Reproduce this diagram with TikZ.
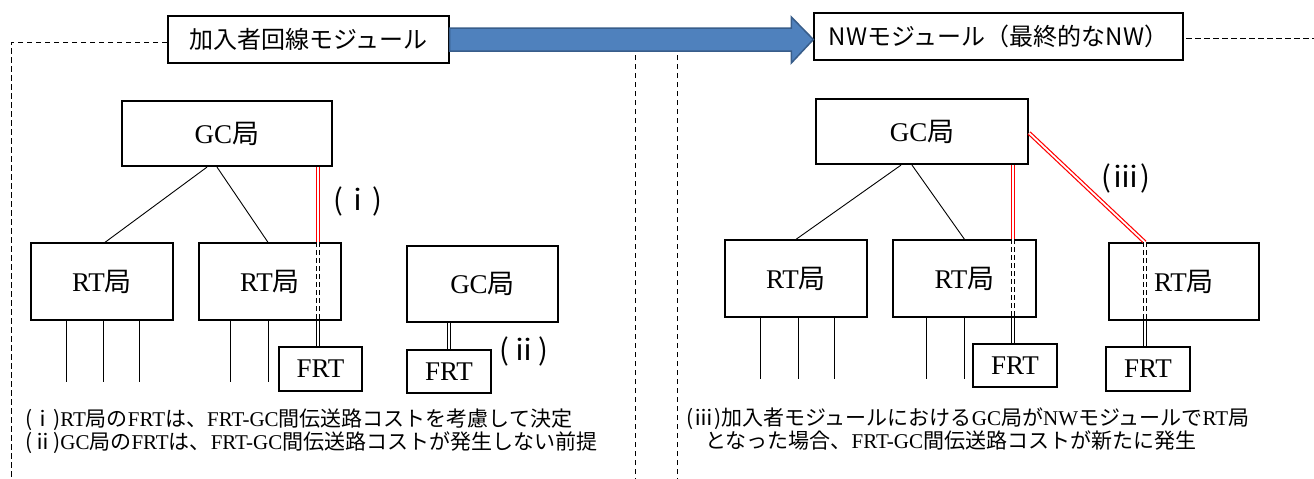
\documentclass[tikz,border=0pt]{standalone}
\usepackage{fontspec}
\setmainfont{Liberation Serif}
\newfontfamily\jp{Noto Sans CJK JP}
\usetikzlibrary{calc}
\definecolor{arrowblue}{RGB}{79,129,189}
\definecolor{arrowedge}{RGB}{56,93,138}

\tikzset{
    box/.style={draw, line width=1.3pt, fill=white, inner sep=0pt, font=\fontsize{27}{30}\selectfont},
    gcbox/.style={box, line width=2.2pt},
    title/.style={draw, line width=1.3pt, fill=white, inner sep=0pt, minimum height=47pt, font=\jp\fontsize{24}{28}\selectfont},
    frame/.style={line width=0.9pt, dash pattern=on 5.5pt off 3.5pt},
    tree/.style={line width=0.9pt},
    cost/.style={draw=red, line width=1.2pt, double=white, double distance=1.8pt},
    inside/.style={draw=black, line width=1.7pt, double=white, double distance=1.3pt, dash pattern=on 5pt off 3pt},
    link/.style={draw=black, line width=1.1pt, double=white, double distance=2pt},
    tag/.style={inner sep=0pt, font=\jp\fontsize{29}{32}\selectfont},
    note/.style={anchor=west, inner sep=0pt, align=left, font=\fontsize{21}{20}\selectfont}
}

\begin{document}
\begin{tikzpicture}[x=1pt,y=-1pt]
\useasboundingbox (0,0) rectangle (1314,479);

% dashed frames of the two modules
\draw[frame] (635,600) -- (635,42) -- (11,42) -- (11,600);
\draw[frame] (677,600) -- (677,38) -- (1400,38);

% module titles and the big arrow
\node[title, minimum width=281pt] (mod1) at (308.5,39.5) {加入者回線モジュール};
\node[title, minimum width=369pt] (mod2) at (998.5,36.5) {NWモジュール（最終的なNW）};
\draw[arrowedge, fill=arrowblue, line width=1.5pt, line join=miter]
    let \p1=(mod1.east), \p2=(mod2.west) in
    (\x1,\y1+11.5pt) -- (\x2-22pt,\y1+11.5pt) -- (\x2-22pt,\y1+22.5pt) -- (\x2,\y1)
    -- (\x2-22pt,\y1-23.5pt) -- (\x2-22pt,\y1-11.5pt) -- (\x1,\y1-11.5pt) -- cycle;

% left: subscriber line module
\node[gcbox, minimum width=210pt, minimum height=65pt] (gc1) at (227,133.5) {GC{\jp 局}};
\node[box, minimum width=142pt, minimum height=77pt] (rt1) at (102,281.5) {RT{\jp 局}};
\node[box, minimum width=142pt, minimum height=77pt] (rt2) at (270,281.5) {RT{\jp 局}};
\node[box, minimum width=83pt, minimum height=44pt] (frt1) at (320.5,369) {FRT};
\node[box, minimum width=151pt, minimum height=76pt] (gc2) at (482.5,284) {GC{\jp 局}};
\node[box, minimum width=84pt, minimum height=43pt] (frt2) at (449,371.5) {FRT};

\draw[tree] ([xshift=-20pt]gc1.south) -- ([xshift=3pt]rt1.north);
\draw[tree] ([xshift=-10pt]gc1.south) -- ([xshift=-2pt]rt2.north);
\foreach \dx in {-36,1,37}
    \draw[tree] ([xshift=\dx pt]rt1.south) -- ++(0,61);
\foreach \dx in {-40,-2}
    \draw[tree] ([xshift=\dx pt]rt2.south) -- ++(0,61);

\draw[cost] ([xshift=-2.5pt]frt1.north |- gc1.south) -- ([xshift=-2.5pt]frt1.north |- rt2.north);
\draw[inside] ([xshift=-2.5pt]frt1.north |- rt2.north) -- ([xshift=-2.5pt]frt1.north |- rt2.south);
\draw[link] ([xshift=-2.5pt]frt1.north |- rt2.south) -- ([xshift=-2.5pt]frt1.north);
\draw[link] (frt2.north |- gc2.south) -- (frt2.north);

\node[tag] (tagi) at (358,201) {(ⅰ)};
\node[tag] (tagii) at (524,351) {(ⅱ)};

\node[note] (note1) at (25,431) {{\jp(ⅰ)}RT{\jp 局の}FRT{\jp は、}FRT-GC{\jp 間伝送路コストを考慮して決定}\\
    {\jp(ⅱ)}GC{\jp 局の}FRT{\jp は、}FRT-GC{\jp 間伝送路コストが発生しない前提}};

% right: final network module
\node[gcbox, minimum width=212pt, minimum height=65pt] (gc3) at (922,131.5) {GC{\jp 局}};
\node[box, minimum width=142pt, minimum height=77pt] (rt3) at (796,278.5) {RT{\jp 局}};
\node[box, minimum width=143pt, minimum height=77pt] (rt4) at (964.5,278.5) {RT{\jp 局}};
\node[box, minimum width=84pt, minimum height=43pt] (frt3) at (1015,365.5) {FRT};
\node[box, minimum width=150pt, minimum height=77pt] (rt5) at (1184,281.5) {RT{\jp 局}};
\node[box, minimum width=84pt, minimum height=44pt] (frt4) at (1148,369) {FRT};

\draw[tree] ([xshift=-21pt]gc3.south) -- (rt3.north);
\draw[tree] ([xshift=-10pt]gc3.south) -- (rt4.north);
\foreach \dx in {-36,2,38}
    \draw[tree] ([xshift=\dx pt]rt3.south) -- ++(0,61);
\foreach \dx in {-38,0}
    \draw[tree] ([xshift=\dx pt]rt4.south) -- ++(0,61);

\draw[cost] ([xshift=-2pt]frt3.north |- gc3.south) -- ([xshift=-2pt]frt3.north |- rt4.north);
\draw[inside] ([xshift=-2pt]frt3.north |- rt4.north) -- ([xshift=-2pt]frt3.north |- rt4.south);
\draw[link] ([xshift=-2pt]frt3.north |- rt4.south) -- ([xshift=-2pt]frt3.north);
\draw[cost] ([yshift=-1.5pt]gc3.east) -- ([xshift=-3pt]frt4.north |- rt5.north);
\draw[inside] ([xshift=-3pt]frt4.north |- rt5.north) -- ([xshift=-3pt]frt4.north |- rt5.south);
\draw[link] ([xshift=-3pt]frt4.north |- rt5.south) -- ([xshift=-3pt]frt4.north);

\node[tag] (tagiii) at (1126,178) {(ⅲ)};

\node[note] (note2) at (686,429) {{\jp(ⅲ)加入者モジュールにおける}GC{\jp 局が}NW{\jp モジュールで}RT{\jp 局}\\
    \hspace*{19pt}{\jp となった場合、}FRT-GC{\jp 間伝送路コストが新たに発生}};
\end{tikzpicture}
\end{document}
